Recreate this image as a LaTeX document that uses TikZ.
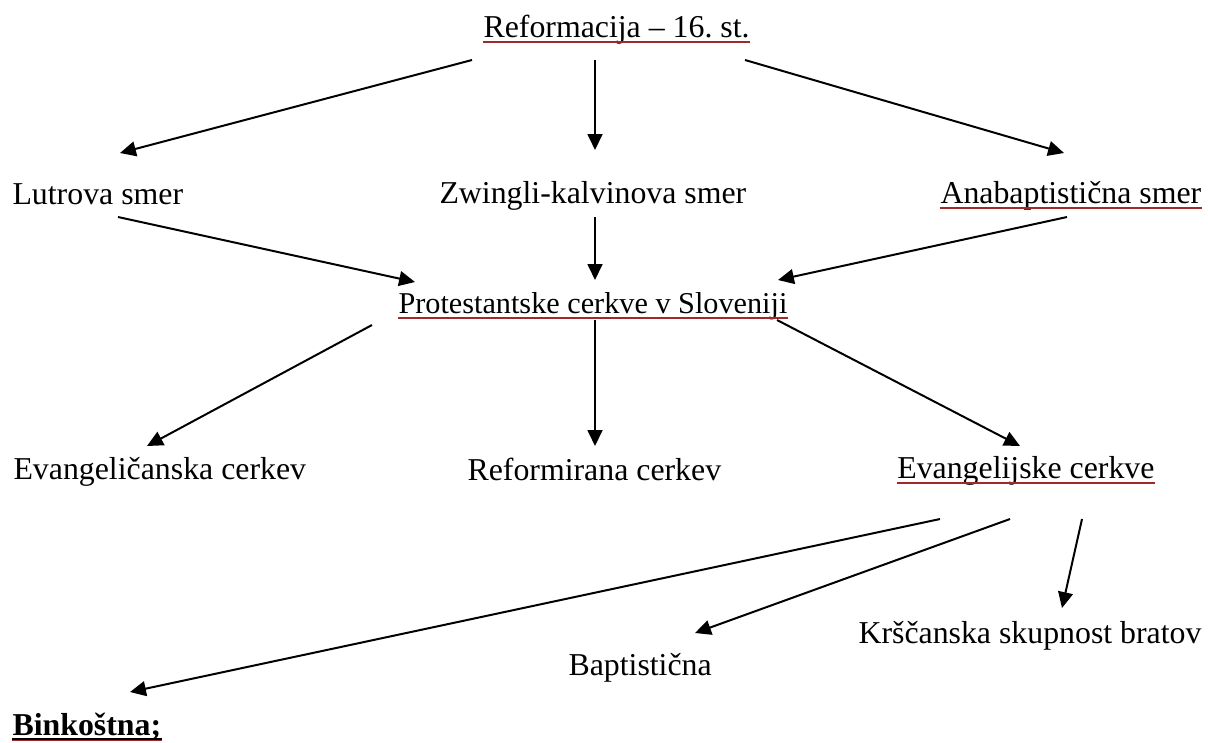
\documentclass[tikz,border=0pt]{standalone}
\usepackage{fontspec}
\setmainfont{Liberation Serif}
\usetikzlibrary{arrows.meta,calc}
\definecolor{spellred}{RGB}{158,42,42}
\frenchspacing

\begin{document}
\begin{tikzpicture}[x=0.377pt,y=-0.377pt,font=\fontsize{12}{14}\selectfont,
  lbl/.style={anchor=base west},
  arr/.style={draw=black,line width=0.75pt,-{Triangle[length=6pt,width=5.6pt]}},
  uline/.style={draw=spellred,line width=0.75pt}]
\tikzstyle{every node}+=[inner sep=0pt]
\useasboundingbox (0,0) rectangle (1208,742);
% labels
\node [lbl] (ref) at (483,37) {Reformacija – 16. st.};
\node [lbl] (lut) at (12,204) {Lutrova smer};
\node [lbl] (zwi) at (439,203) {Zwingli-kalvinova smer};
\node [lbl] (ana) at (940,203) {Anabaptistična smer};
\node [lbl,font=\fontsize{11.4}{14}\selectfont] (prot) at (398,313) {Protestantske cerkve v Sloveniji};
\node [lbl] (evl) at (13,479) {Evangeličanska cerkev};
\node [lbl] (refc) at (467,480) {Reformirana cerkev};
\node [anchor=base east] (evj) at (1155,478) {Evangelijske cerkve};
\node [lbl] (krs) at (858,643) {Krščanska skupnost bratov};
\node [lbl] (bap) at (568,675) {Baptistična};
\node [lbl] (bin) at (12,735) {\textbf{Binkoštna;}};
% underlines
\draw [uline] ([shift={(0,5)}]ref.base west) -- ([shift={(0,5)}]ref.base east);
\draw [uline] ([shift={(0,5)}]ana.base west) -- ([shift={(0,5)}]ana.base east);
\draw [uline] ([shift={(0,5)}]prot.base west) -- ([shift={(0,5)}]prot.base east);
\draw [uline] ([shift={(0,5)}]evj.base west) -- ([shift={(0,5)}]evj.base east);
\draw [black,line width=0.75pt] ([shift={(0,3.5)}]bin.base west) -- ([shift={(0,3.5)}]bin.base east);
\draw [spellred,line width=0.5pt] ([shift={(0,5.5)}]bin.base west) -- ([shift={(0,5.5)}]bin.base east);
% first level
\draw [arr] ([shift={(-11,23)}]ref.base west) -- ([shift={(108,-51)}]lut.base west);
\draw [arr] ([shift={(112,23)}]ref.base west) -- ([shift={(156,-53)}]zwi.base west);
\draw [arr] ([shift={(262,23)}]ref.base west) -- ([shift={(124,-50)}]ana.base west);
% into Protestantske
\draw [arr] ([shift={(106,13)}]lut.base west) -- ([shift={(17,-31)}]prot.base west);
\draw [arr] ([shift={(156,14)}]zwi.base west) -- ([shift={(197,-33)}]prot.base west);
\draw [arr] ([shift={(127,14)}]ana.base west) -- ([shift={(380,-33)}]prot.base west);
% churches
\draw [arr] ([shift={(-26,12)}]prot.base west) -- ([shift={(134,-33)}]evl.base west);
\draw [arr] ([shift={(197,7)}]prot.base west) -- ([shift={(128,-34)}]refc.base west);
\draw [arr] ([shift={(379,7)}]prot.base west) -- ([shift={(-135,-32)}]evj.base east);
% evangelical
\draw [arr] ([shift={(-215,41)}]evj.base east) -- ([shift={(118,-43)}]bin.base west);
\draw [arr] ([shift={(-145,41)}]evj.base east) -- ([shift={(127,-42)}]bap.base west);
\draw [arr] ([shift={(-73,41)}]evj.base east) -- ([shift={(204,-35)}]krs.base west);
\end{tikzpicture}
\end{document}
